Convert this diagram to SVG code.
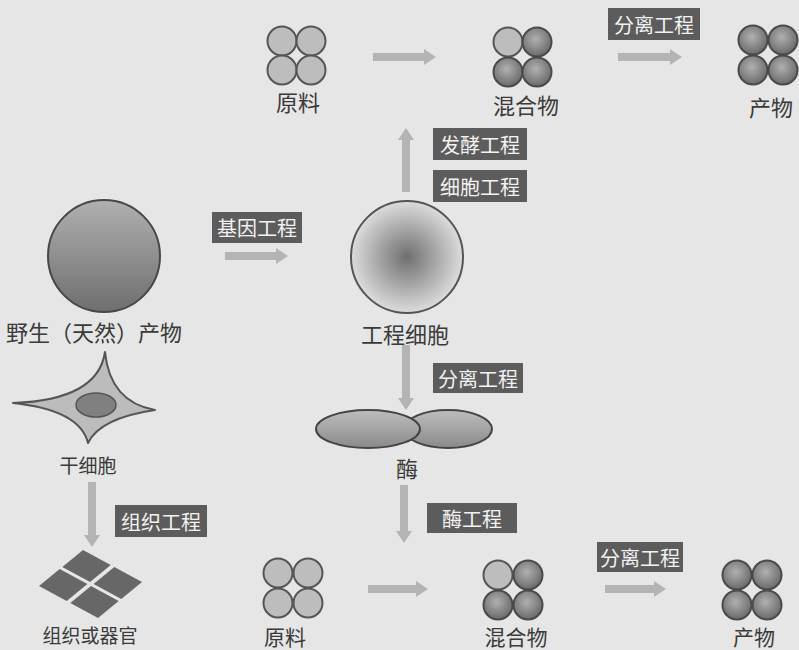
<svg xmlns="http://www.w3.org/2000/svg" width="799" height="650" viewBox="0 0 799 650">
  <defs>
    <style>
      .lbl { font-family: "Noto Sans CJK SC", "Noto Sans", sans-serif; font-size: 22px; fill: #3a3a3a; text-anchor: middle; dominant-baseline: central; }
      .lbl.sm { font-size: 19px; }
      .lbl.bot { font-size: 21px; }
      .tag rect { fill: #5c5c5c; }
      .tag text { font-family: "Noto Sans CJK SC", "Noto Sans", sans-serif; font-size: 20px; fill: #f2f2f2; text-anchor: middle; dominant-baseline: central; }
      .flow { fill: #b4b4b4; }
      .raw { fill: #bdbdbd; stroke: #555; stroke-width: 2; }
      .prod { fill: url(#ballDark); stroke: #4a4a4a; stroke-width: 2; }
    </style>
    <radialGradient id="ballDark" cx="0.45" cy="0.4" r="0.6">
      <stop offset="0" stop-color="#b0b0b0"/>
      <stop offset="1" stop-color="#6a6a6a"/>
    </radialGradient>
    <linearGradient id="wildFill" x1="0" y1="0" x2="0" y2="1">
      <stop offset="0" stop-color="#b0b0b0"/>
      <stop offset="1" stop-color="#6e6e6e"/>
    </linearGradient>
    <radialGradient id="cellFill" cx="0.5" cy="0.5" r="0.5">
      <stop offset="0" stop-color="#6f6f6f"/>
      <stop offset="1" stop-color="#dcdcdc"/>
    </radialGradient>
    <linearGradient id="enzFill" x1="0" y1="0" x2="0" y2="1">
      <stop offset="0" stop-color="#bdbdbd"/>
      <stop offset="1" stop-color="#8a8a8a"/>
    </linearGradient>
  </defs>

  <rect width="799" height="650" fill="#e6e6e6"/>

  <!-- connectors: block arrows -->
  <g id="connectors">
    <polygon class="flow" points="373,53 424,53 424,49 436,57 424,65 424,61 373,61"/>
    <polygon class="flow" points="618,53 670,53 670,49 682,57 670,65 670,61 618,61"/>
    <polygon class="flow" points="225,252 276,252 276,248 288,256 276,264 276,260 225,260"/>
    <polygon class="flow" points="368,585 416,585 416,581 428,589 416,597 416,593 368,593"/>
    <polygon class="flow" points="605,585 654,585 654,581 666,589 654,597 654,593 605,593"/>
    <polygon class="flow" points="402,192 402,140 398,140 406,128 414,140 410,140 410,192"/>
    <polygon class="flow" points="402,345 402,398 398,398 406,410 414,398 410,398 410,345"/>
    <polygon class="flow" points="400,485 400,531 396,531 404,543 412,531 408,531 408,485"/>
    <polygon class="flow" points="88,482 88,535 84,535 92,547 100,535 96,535 96,482"/>
  </g>

  <!-- process tags -->
  <g id="tag-sep-top" class="tag"><rect x="608" y="8" width="92" height="32"/><text x="654" y="24">分离工程</text></g>
  <g id="tag-gene" class="tag"><rect x="212" y="212" width="90" height="31"/><text x="257" y="227.5">基因工程</text></g>
  <g id="tag-ferment" class="tag"><rect x="433" y="128" width="94" height="32"/><text x="480" y="144">发酵工程</text></g>
  <g id="tag-cell" class="tag"><rect x="433" y="170" width="94" height="32"/><text x="480" y="186">细胞工程</text></g>
  <g id="tag-sep-mid" class="tag"><rect x="433" y="363" width="90" height="30"/><text x="478" y="378">分离工程</text></g>
  <g id="tag-enzyme" class="tag"><rect x="427" y="503" width="90" height="30"/><text x="472" y="518">酶工程</text></g>
  <g id="tag-sep-bot" class="tag"><rect x="597" y="542" width="86" height="30"/><text x="640" y="557">分离工程</text></g>
  <g id="tag-tissue" class="tag"><rect x="115" y="505" width="92" height="32"/><text x="161" y="521">组织工程</text></g>

  <!-- top row -->
  <g id="raw-top">
    <circle class="raw" cx="282" cy="41" r="14.5"/>
    <circle class="raw" cx="311" cy="41" r="14.5"/>
    <circle class="raw" cx="282" cy="70" r="14.5"/>
    <circle class="raw" cx="311" cy="70" r="14.5"/>
    <text class="lbl" x="298" y="101">原料</text>
  </g>
  <g id="mix-top">
    <circle class="raw" cx="508" cy="42" r="14.5"/>
    <circle class="prod" cx="537" cy="42" r="14.5"/>
    <circle class="prod" cx="508" cy="72" r="14.5"/>
    <circle class="prod" cx="537" cy="72" r="14.5"/>
    <text class="lbl" x="526" y="104">混合物</text>
  </g>
  <g id="product-top">
    <circle class="prod" cx="753" cy="40" r="14.5"/>
    <circle class="prod" cx="783" cy="40" r="14.5"/>
    <circle class="prod" cx="753" cy="70" r="14.5"/>
    <circle class="prod" cx="783" cy="70" r="14.5"/>
    <text class="lbl" x="771" y="106">产物</text>
  </g>

  <!-- middle row -->
  <g id="wild">
    <circle cx="104" cy="256" r="56" fill="url(#wildFill)" stroke="#474747" stroke-width="2"/>
    <text class="lbl" x="94" y="331">野生（天然）产物</text>
  </g>
  <g id="eng-cell">
    <circle cx="407" cy="257" r="56" fill="url(#cellFill)" stroke="#555" stroke-width="2"/>
    <text class="lbl" x="405" y="333">工程细胞</text>
  </g>
  <g id="enzyme">
    <ellipse cx="448" cy="429" rx="44" ry="19" fill="url(#enzFill)" stroke="#444" stroke-width="2"/>
    <ellipse cx="368" cy="429" rx="52" ry="19" fill="url(#enzFill)" stroke="#444" stroke-width="2"/>
    <text class="lbl" x="407" y="467">酶</text>
  </g>

  <!-- left column -->
  <g id="stem-cell">
    <path d="M105,352 Q110,402 155,410 Q100,418 88,443 Q80,410 13,403 Q98,400 105,352 Z" fill="#bcbcbc" stroke="#555" stroke-width="2" stroke-linejoin="round"/>
    <ellipse cx="96" cy="405" rx="20" ry="12" fill="#808080" stroke="#555" stroke-width="1.5"/>
    <text class="lbl sm" x="88" y="464">干细胞</text>
  </g>
  <g id="tissue" fill="#676767">
    <polygon points="39,586 59.7,569.1 87.4,584.1 66.7,601"/>
    <polygon points="62.3,566.9 83,550 110.7,565 90.1,582"/>
    <polygon points="93.6,583.9 114.3,567 142,582 121.3,598.9"/>
    <polygon points="70.3,603 91,586 118.7,601.1 98,618"/>
    <text class="lbl sm" x="90" y="634">组织或器官</text>
  </g>

  <!-- bottom row -->
  <g id="raw-bot">
    <circle class="raw" cx="278" cy="573" r="14.5"/>
    <circle class="raw" cx="308" cy="573" r="14.5"/>
    <circle class="raw" cx="278" cy="603" r="14.5"/>
    <circle class="raw" cx="308" cy="603" r="14.5"/>
    <text class="lbl bot" x="285" y="636">原料</text>
  </g>
  <g id="mix-bot">
    <circle class="raw" cx="498" cy="575" r="14.5"/>
    <circle class="prod" cx="528" cy="575" r="14.5"/>
    <circle class="prod" cx="498" cy="605" r="14.5"/>
    <circle class="prod" cx="528" cy="605" r="14.5"/>
    <text class="lbl bot" x="516" y="636">混合物</text>
  </g>
  <g id="product-bot">
    <circle class="prod" cx="737" cy="575" r="14.5"/>
    <circle class="prod" cx="767" cy="575" r="14.5"/>
    <circle class="prod" cx="737" cy="605" r="14.5"/>
    <circle class="prod" cx="767" cy="605" r="14.5"/>
    <text class="lbl bot" x="754" y="636">产物</text>
  </g>
</svg>
